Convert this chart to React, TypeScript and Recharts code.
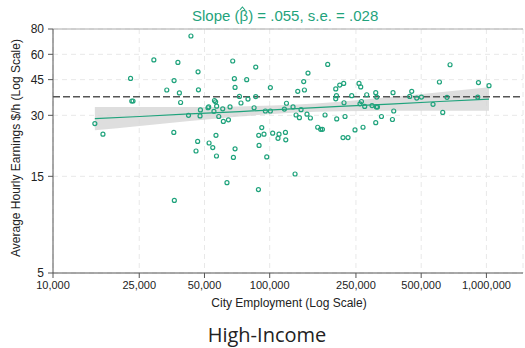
import React from "react";
import {
  ComposedChart,
  XAxis,
  YAxis,
  CartesianGrid,
  Scatter,
  Line,
  Area,
  ReferenceLine,
} from "recharts";

// City employment (x) and average hourly earnings (y) for each city
const cityEmployment = [
  15600, 17000, 22800, 23100, 23400, 29200, 33500, 36200, 36100, 36300,
  37700, 38300, 38800, 42200, 43300, 45700, 46500, 46700, 46900, 47700,
  47900, 51900, 52300, 52500, 54600, 55300, 55600, 56300, 56500, 56800,
  56900, 58200, 60700, 61100, 63500, 64500, 65600, 67500, 68000, 68700,
  69200, 69200, 72500, 73700, 78300, 79400, 84700, 86200, 86200, 88700,
  89000, 89300, 91900, 94100, 95500, 96900, 100700, 100700, 103200, 109200,
  110400, 116900, 118200, 118600, 119500, 128100, 130900, 132300, 134700, 137100,
  139500, 143500, 144600, 148600, 150200, 154100, 166500, 171900, 175100, 180000,
  185200, 201700, 203200, 201700, 203800, 210400, 217900, 219500, 220200, 222600,
  229800, 239000, 247500, 258300, 261000, 263000, 265000, 269500, 274400, 280300,
  296600, 308500, 308500, 310800, 311800, 314100, 327800, 368400, 370700, 373500,
  442700, 452200, 476900, 501300, 567000, 606900, 628700, 658000, 679400, 911900,
  918700, 1028000,
];
const hourlyEarnings = [
  27.3, 24.2, 45.6, 35.3, 35.3, 56.3, 40.0, 44.5, 24.7, 11.4,
  54.7, 38.7, 34.7, 30.0, 73.9, 20.0, 22.3, 49.2, 40.1, 29.8,
  31.9, 32.7, 33.0, 21.9, 20.8, 31.4, 35.5, 35.0, 23.9, 18.9,
  33.3, 29.6, 32.3, 28.0, 13.95, 28.5, 33.0, 55.6, 18.6, 45.5,
  41.2, 20.5, 37.2, 34.5, 45.0, 36.1, 32.7, 51.9, 37.1, 12.9,
  23.9, 21.3, 26.1, 24.2, 31.5, 18.7, 41.1, 31.5, 24.5, 23.1,
  24.2, 32.2, 24.7, 22.7, 34.4, 33.0, 15.4, 30.1, 39.4, 29.2,
  32.0, 44.0, 40.0, 30.4, 48.5, 29.1, 26.2, 25.6, 25.6, 30.1,
  53.5, 40.5, 37.5, 36.2, 28.8, 42.3, 23.3, 43.1, 34.6, 29.6,
  23.3, 37.5, 25.4, 43.1, 34.2, 41.4, 35.1, 26.2, 33.2, 37.9,
  33.5, 38.8, 27.6, 33.0, 36.9, 33.0, 29.6, 28.6, 38.8, 31.5,
  37.2, 39.4, 36.5, 36.9, 34.0, 43.8, 31.0, 36.8, 53.3, 36.9,
  43.5, 42.0,
];

// Fitted line with confidence band
const fitX = [15600, 25100, 42700, 72700, 126300, 210400, 358000, 608800, 1028000];
const fitY = [28.9, 29.6, 30.5, 31.3, 32.3, 33.2, 34.1, 35.1, 36.1];
const bandLow = [25.3, 26.6, 28.1, 29.6, 30.9, 31.4, 31.6, 31.6, 31.6];
const bandHigh = [33.0, 33.0, 33.0, 33.2, 33.8, 35.0, 36.9, 39.0, 41.3];

const xTicks = [10000, 25000, 50000, 100000, 250000, 500000, 1000000];
const yTicks = [5, 15, 30, 37, 45, 60, 80];
const referenceWage = 37;

const points = cityEmployment.map((x, i) => ({ x, y: hourlyEarnings[i] }));
const fitRows = fitX.map((x, i) => ({
  x,
  fit: fitY[i],
  lo: bandLow[i],
  hi: bandHigh[i],
}));

const GREEN = "#1fa37c";
const FONT = "'Liberation Sans', Arial, Helvetica, sans-serif";

const Dot = (props: any) => {
  const { cx, cy } = props;
  if (cx == null || cy == null) return null;
  return <circle cx={cx} cy={cy} r={2} fill="none" stroke={GREEN} strokeWidth={1.2} />;
};

export default function App() {
  return (
    <div
      style={{
        position: "absolute",
        left: 0,
        top: 0,
        width: 525,
        height: 348,
        background: "#fff",
        fontFamily: FONT,
      }}
    >
      <ComposedChart
        width={525}
        height={348}
        data={fitRows}
        margin={{ top: 29, right: 2, bottom: 45, left: 0 }}
      >
        <CartesianGrid stroke="#e8e8e8" strokeDasharray="5 4" />
        <XAxis
          type="number"
          dataKey="x"
          scale="log"
          domain={[10000, 1475000]}
          allowDataOverflow
          ticks={xTicks}
          tickFormatter={(v: number) => v.toLocaleString("en-US")}
          stroke="#555"
          tick={{ fontSize: 11, fill: "#222", fontFamily: FONT }}
          tickSize={5}
          tickMargin={3}
          height={30}
        />
        <YAxis
          type="number"
          scale="log"
          domain={[5, 80]}
          allowDataOverflow
          ticks={yTicks}
          stroke="#555"
          tick={{ fontSize: 12, fill: "#222", fontFamily: FONT }}
          tickSize={5}
          tickMargin={4}
          width={53}
        />
        <ReferenceLine y={80} stroke="#aaa" strokeWidth={1} />
        <Area
          dataKey={(d: any) => [d.lo, d.hi]}
          type="monotone"
          stroke="none"
          fill="#d6d6d6"
          fillOpacity={0.8}
          isAnimationActive={false}
          activeDot={false}
        />
        <ReferenceLine
          y={referenceWage}
          stroke="#555"
          strokeWidth={1.5}
          strokeDasharray="7 3"
        />
        <Line
          dataKey="fit"
          type="linear"
          stroke={GREEN}
          strokeWidth={1.2}
          dot={false}
          activeDot={false}
          isAnimationActive={false}
        />
        <Scatter
          data={points}
          dataKey="y"
          shape={Dot}
          isAnimationActive={false}
        />
      </ComposedChart>
      <svg
        width={525}
        height={348}
        style={{ position: "absolute", left: 0, top: 0, pointerEvents: "none" }}
      >
        <text x={192} y={21} fontSize={15} fill={GREEN} fontFamily={FONT}>
          Slope (β) = .055, s.e. = .028
        </text>
        <polyline
          points="239.8,10 242.4,7 245,10"
          fill="none"
          stroke={GREEN}
          strokeWidth={1.1}
        />
        <text
          x={20}
          y={148}
          textAnchor="middle"
          fontSize={12}
          fill="#222"
          fontFamily={FONT}
          transform="rotate(-90 20 148)"
        >
          Average Hourly Earnings $/h (Log Scale)
        </text>
        <text
          x={289}
          y={306.5}
          textAnchor="middle"
          fontSize={12}
          fill="#222"
          fontFamily={FONT}
        >
          City Employment (Log Scale)
        </text>
        <text
          x={267}
          y={342}
          textAnchor="middle"
          fontSize={20}
          fill="#222"
          fontFamily="'Open Sans', 'Noto Sans', sans-serif"
        >
          High-Income
        </text>
      </svg>
    </div>
  );
}
